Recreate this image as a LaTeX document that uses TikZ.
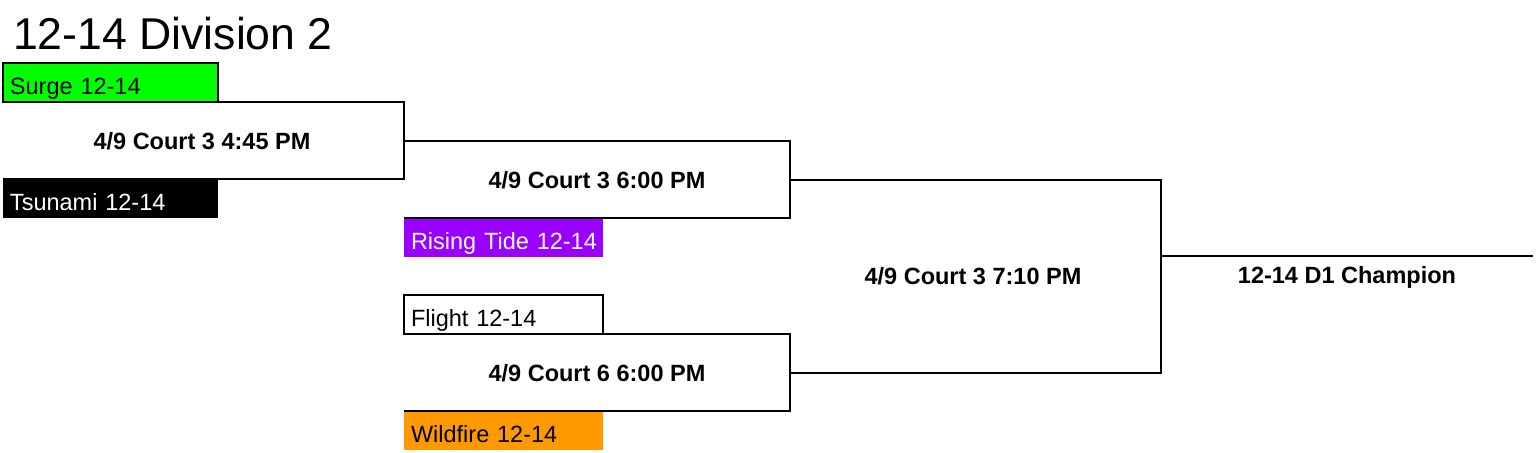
\documentclass[tikz,border=0pt]{standalone}
\usepackage{fontspec}
\setmainfont{Liberation Sans}
\definecolor{surgegreen}{RGB}{0,255,0}
\definecolor{tidepurple}{RGB}{153,0,255}
\definecolor{fireorange}{RGB}{255,153,0}
\tikzset{
  team/.style={anchor=north west,inner xsep=3.5pt,inner ysep=0pt,outer sep=0pt,
    text height=15.7pt,text depth=3.8pt,align=left,
    execute at begin node=\hbox\bgroup,execute at end node=\egroup,
    font=\fontsize{11.75}{14}\selectfont},
  teamwide/.style={team,text width=100.5pt},
  teamnarrow/.style={team,text width=92.5pt},
  game/.style={font=\fontsize{11.75}{14}\selectfont\bfseries},
}
\begin{document}
\begin{tikzpicture}[x=0.5pt,y=-0.5pt,line width=1pt]
\useasboundingbox (0,0) rectangle (1536,453);
\node[anchor=base west,inner sep=0pt,font=\fontsize{22.3}{26}\selectfont] (title) at (12,50) {12-14 Division 2};
% first round
\node[teamwide,draw,fill=surgegreen] (surge) at (3,63) {Surge 12-14};
\node[teamwide,fill=black,text=white] (tsunami) at (3,179) {Tsunami 12-14};
\node[game] (g1) at (202,141) {4/9 Court 3 4:45 PM};
\coordinate (g1r) at (404,141);
\draw (surge.south west) -| (g1r |- tsunami.north) -- (tsunami.north west);
% second round
\node[teamnarrow,fill=tidepurple,text=white] (tide) at (404,218) {Rising Tide 12-14};
\node[teamnarrow,draw] (flight) at (404,295) {Flight 12-14};
\node[teamnarrow,fill=fireorange] (wildfire) at (404,411) {Wildfire 12-14};
\node[game] (g2) at (597,180) {4/9 Court 3 6:00 PM};
\node[game] (g3) at (597,373) {4/9 Court 6 6:00 PM};
\coordinate (g2r) at (790,180);
\coordinate (g3r) at (790,373);
\draw (g1r) -| (g2r |- tide.north) -- (tide.north west);
\draw (flight.south west) -| (g3r |- wildfire.north) -- (wildfire.north west);
% final
\node[game] (g4) at (973,276) {4/9 Court 3 7:10 PM};
\coordinate (g4r) at (1161,256);
\draw (g2r) -| (g4r |- g3r) -- (g3r);
\node[game] (champ) at (1347,277) {12-14 D1 Champion};
\coordinate (champend) at (1533,256);
\draw (g4r) -- (champend);
\end{tikzpicture}
\end{document}
